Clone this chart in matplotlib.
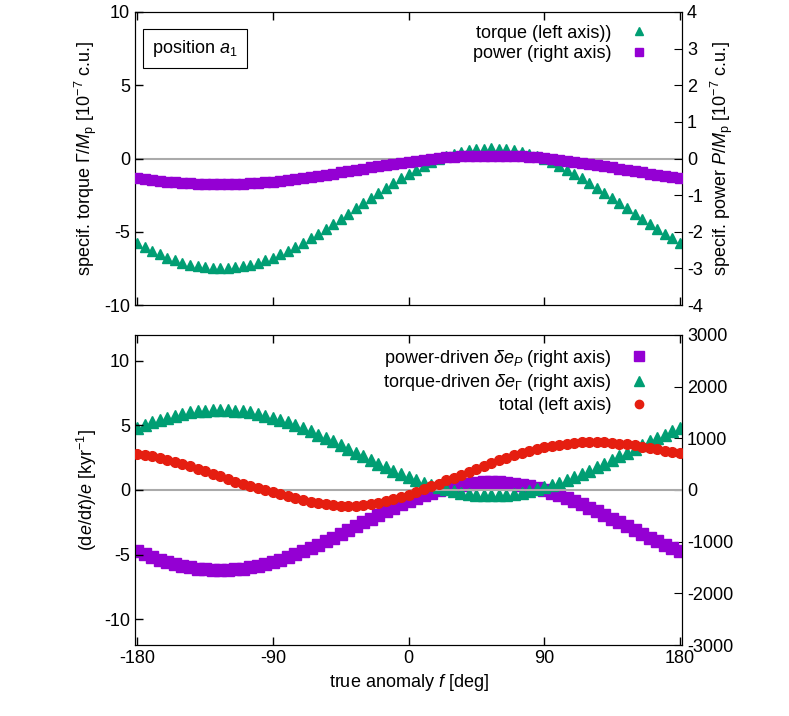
import matplotlib
matplotlib.use("Agg")
import matplotlib.pyplot as plt
from matplotlib.lines import Line2D

plt.rcParams['font.family'] = 'Liberation Sans'
plt.rcParams['font.size'] = 13
plt.rcParams['axes.unicode_minus'] = False
plt.rcParams['mathtext.fontset'] = 'custom'
plt.rcParams['mathtext.rm'] = 'Liberation Sans'
plt.rcParams['mathtext.it'] = 'Liberation Sans:italic'

f = list(range(-180, 181, 5))

torque_top = [-5.75,-6.04,-6.30,-6.54,-6.76,-6.95,-7.11,-7.25,-7.36,-7.44,-7.48,-7.50,
 -7.48,-7.44,-7.36,-7.25,-7.11,-6.95,-6.76,-6.54,-6.30,-6.04,-5.75,-5.45,-5.13,-4.80,
 -4.46,-4.11,-3.76,-3.40,-3.04,-2.69,-2.34,-2.00,-1.67,-1.35,-1.05,-0.76,-0.50,-0.26,
 -0.04,0.15,0.31,0.45,0.56,0.64,0.68,0.70,0.68,0.64,0.56,0.45,0.31,0.15,-0.04,-0.26,
 -0.50,-0.76,-1.05,-1.35,-1.67,-2.00,-2.34,-2.69,-3.04,-3.40,-3.76,-4.11,-4.46,-4.80,
 -5.13,-5.45,-5.75]
power_top = [-0.53,-0.56,-0.59,-0.61,-0.63,-0.65,-0.66,-0.68,-0.69,-0.69,-0.70,-0.70,
 -0.70,-0.69,-0.69,-0.68,-0.66,-0.65,-0.63,-0.61,-0.59,-0.56,-0.53,-0.51,-0.47,-0.44,
 -0.41,-0.38,-0.34,-0.31,-0.28,-0.24,-0.21,-0.18,-0.15,-0.12,-0.09,-0.06,-0.03,-0.01,
 0.01,0.03,0.04,0.06,0.07,0.07,0.08,0.08,0.08,0.07,0.07,0.06,0.04,0.03,0.01,-0.01,
 -0.03,-0.06,-0.09,-0.12,-0.15,-0.18,-0.21,-0.24,-0.28,-0.31,-0.34,-0.38,-0.41,-0.44,
 -0.47,-0.51,-0.53]
de_power = [-1188,-1247,-1301,-1351,-1396,-1436,-1470,-1499,-1521,-1537,-1547,-1550,
 -1547,-1537,-1521,-1499,-1470,-1436,-1396,-1351,-1301,-1247,-1188,-1125,-1060,-991,
 -920,-848,-774,-700,-626,-552,-480,-409,-340,-275,-212,-153,-99,-49,
 -4,36,70,99,121,137,147,150,147,137,121,99,70,36,-4,-49,
 -99,-153,-212,-275,-340,-409,-480,-552,-626,-700,-774,-848,-920,-991,
 -1060,-1125,-1188]
de_torque = [1199,1255,1308,1357,1401,1439,1472,1501,1522,1538,1547,1550,
 1547,1538,1522,1501,1472,1439,1401,1357,1308,1255,1199,1138,1074,1007,
 939,869,797,725,653,581,511,443,376,313,251,195,142,93,
 49,11,-22,-51,-72,-88,-97,-100,-97,-88,-72,-51,-22,11,49,93,
 142,195,251,313,376,443,511,581,653,725,797,869,939,1007,
 1074,1138,1199]
total = [2.8,2.7,2.6,2.5,2.35,2.2,2.0,1.85,1.65,1.45,1.25,1.05,0.85,0.65,0.5,0.3,0.15,0.0,
 -0.15,-0.3,-0.45,-0.6,-0.75,-0.9,-1.0,-1.1,-1.15,-1.2,-1.2,-1.2,-1.15,-1.1,-1.0,-0.85,
 -0.7,-0.55,-0.35,-0.15,0.05,0.3,0.5,0.75,0.95,1.2,1.4,1.65,1.85,2.1,2.3,2.5,2.7,2.85,
 3.0,3.15,3.3,3.4,3.5,3.6,3.65,3.7,3.7,3.72,3.7,3.65,3.6,3.55,3.45,3.35,3.25,3.15,3.05,
 2.95,2.9]

GREEN = '#009e73'
PURPLE = '#9400d3'
RED = '#e51e10'

fig = plt.figure(figsize=(7.89, 7.16), dpi=100)
L, W = 135/789, 547/789
ax1 = fig.add_axes([L, 1-305/716, W, 293/716])
ax2 = fig.add_axes([L, 1-645/716, W, 310/716])

def style(ax):
    ax.tick_params(direction='in', top=True, length=6, width=1)
    ax.set_xlim(-181.5, 181.5)
    ax.set_xticks([-180, -90, 0, 90, 180])
    ax.axhline(0, color='#aaaaaa', lw=1.5, zorder=0)

# Top panel
style(ax1)
ax1.set_ylim(-10, 10)
ax1.set_yticks([-10, -5, 0, 5, 10])
ax1.set_xticklabels([])
ax1r = ax1.twinx()
ax1r.set_ylim(-4, 4)
ax1r.set_yticks(range(-4, 5))
ax1r.tick_params(direction='in', length=6)
ax1.tick_params(right=False)
ax1.plot(f, torque_top, '^', color=GREEN, ms=7, ls='none', zorder=3)
ax1r.plot(f, power_top, 's', color=PURPLE, ms=7, ls='none', zorder=3)
ax1.set_ylabel(r'specif. torque $\Gamma/M_{\rm p}$ [10$^{-7}$ c.u.]')
ax1r.set_ylabel(r'specif. power $P/M_{\rm p}$ [10$^{-7}$ c.u.]')
ax1.text(-170, 7.5, r'position $a_1$', ha='left', va='center',
         bbox=dict(boxstyle='square,pad=0.5', fc='white', ec='black', lw=0.8))
h1 = [Line2D([], [], marker='^', color=GREEN, ls='none', ms=6),
      Line2D([], [], marker='s', color=PURPLE, ls='none', ms=6)]
ax1.legend(h1, ['torque (left axis))', 'power (right axis)'], loc='upper right',
           frameon=False, markerfirst=False, handlelength=1.5, handletextpad=0.8,
           borderaxespad=0.3, labelspacing=0.2, bbox_to_anchor=(0.97, 1.0))

# Bottom panel
style(ax2)
ax2.set_ylim(-12, 12)
ax2.set_yticks([-10, -5, 0, 5, 10])
ax2r = ax2.twinx()
ax2r.set_ylim(-3000, 3000)
ax2r.set_yticks(range(-3000, 3001, 1000))
ax2r.tick_params(direction='in', length=6)
ax2.tick_params(right=False)
ax2r.plot(f, de_power, 's', color=PURPLE, ms=9, ls='none', zorder=3)
ax2r.plot(f, de_torque, '^', color=GREEN, ms=9, ls='none', zorder=3)
ax2r.set_zorder(1)
ax2.set_zorder(2)
ax2.patch.set_visible(False)
ax2.plot(f, total, 'o', color=RED, ms=7, ls='none', zorder=4)
ax2.set_ylabel(r'(d$e$/d$t$)/$e$ [kyr$^{-1}$]')
ax2.set_xlabel(r'true anomaly $f$ [deg]')
h2 = [Line2D([], [], marker='s', color=PURPLE, ls='none', ms=7),
      Line2D([], [], marker='^', color=GREEN, ls='none', ms=7),
      Line2D([], [], marker='o', color=RED, ls='none', ms=6)]
ax2.legend(h2, [r'power-driven $\delta e_P$ (right axis)',
                r'torque-driven $\delta e_\Gamma$ (right axis)',
                'total (left axis)'], loc='upper right',
           frameon=False, markerfirst=False, handlelength=1.5, handletextpad=0.8,
           borderaxespad=0.3, labelspacing=0.2, bbox_to_anchor=(0.97, 1.0))

fig.savefig('out.png', dpi=100)
